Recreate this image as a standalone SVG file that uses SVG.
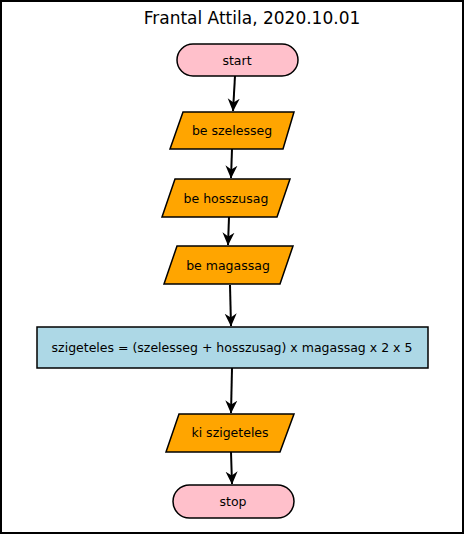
<svg xmlns="http://www.w3.org/2000/svg" width="465" height="536" viewBox="0 0 465 536">
<style>
text{font-family:"DejaVu Sans",sans-serif;fill:#000}
.lbl{font-size:12.5px;text-anchor:middle;dominant-baseline:central}
.term{fill:#ffc0cb;stroke:#000;stroke-width:1.5}
.io{fill:#ffa500;stroke:#000;stroke-width:1.5}
.proc{fill:#add8e6;stroke:#000;stroke-width:1.5}
.edge{stroke:#000;stroke-width:2;fill:none;marker-end:url(#ah)}
</style>
<defs>
<marker id="ah" viewBox="0 0 13 13" refX="12.5" refY="6.5" markerWidth="13" markerHeight="13" markerUnits="userSpaceOnUse" orient="auto">
<path d="M0,0.5 L13,6.5 L0,12.5 L4,6.5 z" fill="#000"/>
</marker>
</defs>
<rect x="1" y="1" width="462" height="532" fill="#fff" stroke="#000" stroke-width="2"/>
<text x="252" y="24" font-size="17" text-anchor="middle">Frantal Attila, 2020.10.01</text>
<g id="connectors">
<line class="edge" x1="235" y1="76" x2="233" y2="111"/>
<line class="edge" x1="232" y1="149" x2="231" y2="178"/>
<line class="edge" x1="229" y1="217" x2="228" y2="245"/>
<line class="edge" x1="230" y1="285" x2="231" y2="326"/>
<line class="edge" x1="232" y1="368" x2="231" y2="413"/>
<line class="edge" x1="231" y1="452" x2="232" y2="484"/>
</g>
<g id="start">
<rect class="term" x="177" y="44" width="121" height="32" rx="16"/>
<text class="lbl" x="237" y="60">start</text>
</g>
<g id="in1">
<polygon class="io" points="183,112 294,112 283,149 170,149"/>
<text class="lbl" x="232" y="130">be szelesseg</text>
</g>
<g id="in2">
<polygon class="io" points="175,179 290,179 277,217 162,217"/>
<text class="lbl" x="226" y="198">be hosszusag</text>
</g>
<g id="in3">
<polygon class="io" points="177,246 293,246 280,284 164,284"/>
<text class="lbl" x="228" y="265">be magassag</text>
</g>
<g id="calc">
<rect class="proc" x="37" y="327" width="391" height="41"/>
<text class="lbl" x="232" y="347">szigeteles = (szelesseg + hosszusag) x magassag x 2 x 5</text>
</g>
<g id="out">
<polygon class="io" points="179,414 294,414 280,452 166,452"/>
<text class="lbl" x="230" y="432">ki szigeteles</text>
</g>
<g id="stop">
<rect class="term" x="173" y="485" width="121" height="33" rx="16.5"/>
<text class="lbl" x="233" y="501">stop</text>
</g>
</svg>
